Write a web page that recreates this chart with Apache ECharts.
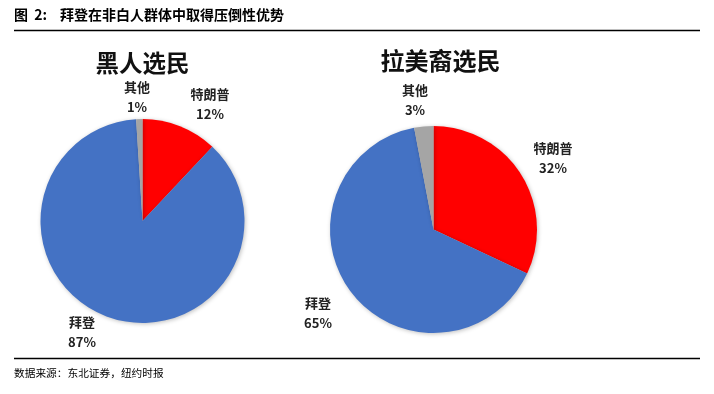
<!DOCTYPE html>
<html>
<head>
<meta charset="utf-8">
<script src="https://cdn.jsdelivr.net/npm/echarts@6/dist/echarts.min.js"></script>
<style>html,body{margin:0;padding:0;background:#fff;}#c{width:714px;height:394px;}</style>
</head>
<body>
<div id="c"></div>
<script>
var categories = ['特朗普', '拜登', '其他'];
var blackValues = [12, 87, 1];
var latinoValues = [32, 65, 3];
var pieTitles = ['黑人选民', '拉美裔选民'];
var headerText = '图  2:    拜登在非白人群体中取得压倒性优势';
var sourceText = '数据来源：东北证券，纽约时报';

var colors = ['#FF0000', '#4472C4', '#A5A5A5'];
var font = '"Noto Sans CJK SC", sans-serif';
// label centre positions per series/category
var labelPos = [
  [[210, 104], [82, 332], [137, 97]],
  [[553, 158], [318, 313], [415, 100]]
];

function mk(values, idx, center, radius) {
  return {
    type: 'pie',
    center: center,
    radius: radius,
    startAngle: 90,
    clockwise: true,
    animation: false,
    data: categories.map(function (c, i) {
      return { name: c, value: values[i], itemStyle: { color: colors[i] } };
    }),
    itemStyle: { shadowBlur: 4, shadowColor: 'rgba(0,0,0,0.25)', shadowOffsetX: 1, shadowOffsetY: 1 },
    label: {
      show: true,
      formatter: '{b}\n{d}%',
      fontFamily: font,
      fontWeight: 'bold',
      fontSize: 13,
      lineHeight: 20,
      color: '#222',
      align: 'center'
    },
    labelLine: { show: false },
    labelLayout: function (p) {
      var pos = labelPos[idx][p.dataIndex];
      return { x: pos[0], y: pos[1], align: 'center', verticalAlign: 'middle' };
    },
    emphasis: { disabled: true }
  };
}

var chart = echarts.init(document.getElementById('c'));
chart.setOption({
  backgroundColor: '#fff',
  graphic: [
    { type: 'text', x: 14, y: 8, style: { text: headerText, font: 'bold 14px "Noto Sans CJK SC", sans-serif', fill: '#000' } },
    { type: 'line', shape: { x1: 14, y1: 30.5, x2: 700, y2: 30.5 }, style: { stroke: '#000', lineWidth: 1.5 } },
    { type: 'line', shape: { x1: 14, y1: 358.5, x2: 700, y2: 358.5 }, style: { stroke: '#000', lineWidth: 1.5 } },
    { type: 'text', x: 14, y: 368, style: { text: sourceText, font: '10.7px "Noto Sans CJK SC", sans-serif', fill: '#000' } },
    { type: 'text', x: 142.5, y: 63, style: { text: pieTitles[0], font: 'bold 23.5px "Noto Sans CJK SC", sans-serif', fill: '#111', align: 'center', verticalAlign: 'middle' } },
    { type: 'text', x: 440.5, y: 61, style: { text: pieTitles[1], font: 'bold 24px "Noto Sans CJK SC", sans-serif', fill: '#111', align: 'center', verticalAlign: 'middle' } }
  ],
  series: [
    mk(blackValues, 0, [142.5, 221], 102),
    mk(latinoValues, 1, [433.5, 229.5], 103.5)
  ]
});
</script>
</body>
</html>
